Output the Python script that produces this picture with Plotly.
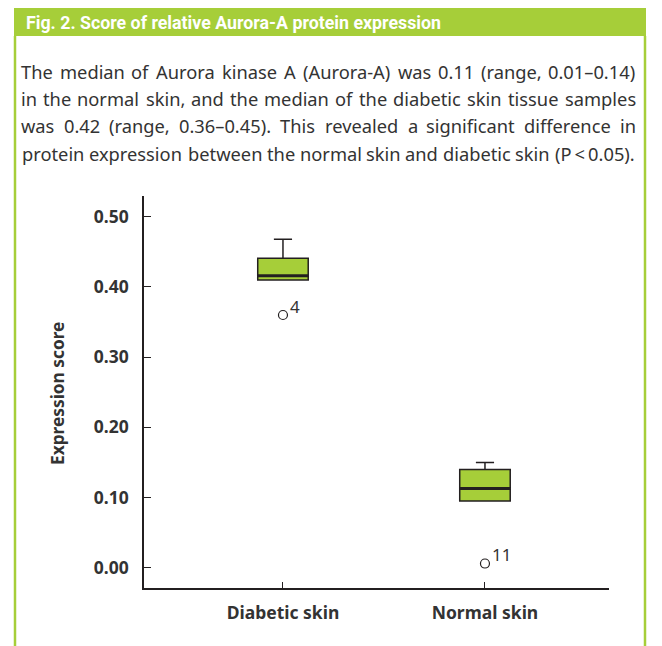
import plotly.graph_objects as go

# page has an 8px body margin; the figure is placed at (8, 8)
OFF = 8
W, H = 662 - OFF, 646 - OFF

# ---- data ----
categories = ["Diabetic skin", "Normal skin"]
q1 = [0.410, 0.095]
median = [0.416, 0.113]
q3 = [0.441, 0.140]
lowerfence = [0.410, 0.095]
upperfence = [0.468, 0.150]
outliers = [0.360, 0.006]
outlier_labels = ["4", "11"]
ytick_vals = [0.0, 0.1, 0.2, 0.3, 0.4, 0.5]

title_text = "Fig. 2. Score of relative Aurora-A protein expression"
body_lines = [
    "The median of Aurora kinase A (Aurora-A) was 0.11 (range, 0.01\u20130.14)",
    "in the normal skin, and the median of the diabetic skin tissue samples",
    "was 0.42 (range, 0.36\u20130.45). This revealed a significant difference in",
    "protein expression between the normal skin and diabetic skin (P\u2009<\u20090.05).",
]

GREEN = "#A6CE39"
DARK = "#231F20"
TXT = "#333333"
FONT = "Noto Sans"


def px_x(p):
    return (p - OFF) / W


def px_y(p):
    return 1 - (p - OFF) / H


# approximate advance widths (em) of Noto Sans Regular, used only to justify text
ADV = {
    " ": .26, "a": .556, "b": .613, "c": .476, "d": .613, "e": .561, "f": .339,
    "g": .548, "h": .614, "i": .253, "j": .253, "k": .525, "l": .253, "m": .930,
    "n": .614, "o": .604, "p": .613, "q": .613, "r": .408, "s": .477, "t": .353,
    "u": .614, "v": .501, "w": .778, "x": .524, "y": .502, "z": .477,
    "A": .633, "P": .596, "T": .549, ".": .266, ",": .244, "(": .295, ")": .295,
    "-": .322, "\u2013": .5, "<": .572, "\u2009": .2,
}
for d in "0123456789":
    ADV[d] = .572
WCORR = 1.012


def text_w(s, size):
    return sum(ADV.get(ch, .55) for ch in s) * size * WCORR


xpos = list(range(len(categories)))
box_w = 0.25

fig = go.Figure()
for i, c in enumerate(categories):
    fig.add_trace(go.Box(
        x=[xpos[i]], q1=[q1[i]], median=[median[i]], q3=[q3[i]],
        lowerfence=[lowerfence[i]], upperfence=[upperfence[i]],
        width=box_w, whiskerwidth=0.36, fillcolor=GREEN,
        line=dict(color=DARK, width=1.5), boxpoints=False,
        showlegend=False, hoverinfo="skip", name=c,
    ))
    fig.add_trace(go.Scatter(
        x=[xpos[i] - box_w / 2, xpos[i] + box_w / 2], y=[median[i], median[i]],
        mode="lines", line=dict(color=DARK, width=3), showlegend=False,
        hoverinfo="skip",
    ))

fig.add_trace(go.Scatter(
    x=xpos, y=outliers, mode="markers",
    marker=dict(symbol="circle-open", size=9, color=DARK, line=dict(width=1.2)),
    showlegend=False, hoverinfo="skip",
))

shapes = [
    dict(type="rect", xref="paper", yref="paper", x0=px_x(14), x1=px_x(646),
         y0=px_y(36), y1=px_y(7), fillcolor=GREEN, line=dict(width=0), layer="below"),
    dict(type="line", xref="paper", yref="paper", x0=px_x(15), x1=px_x(15),
         y0=px_y(36), y1=0, line=dict(color=GREEN, width=2.5)),
    dict(type="line", xref="paper", yref="paper", x0=px_x(645), x1=px_x(645),
         y0=px_y(36), y1=0, line=dict(color=GREEN, width=2.5)),
]

annotations = [
    dict(text="<b>" + title_text + "</b>", xref="paper", yref="paper",
         x=px_x(24), y=px_y(22), xanchor="left", yanchor="middle", showarrow=False,
         font=dict(family="Roboto", size=17.8, color="white")),
    dict(text="<b>Expression score</b>", xref="paper", yref="paper",
         x=px_x(57), y=px_y(394), xanchor="center", yanchor="middle", showarrow=False,
         textangle=-90, font=dict(family=FONT, size=17.3, color=TXT)),
]
for i, t in enumerate(outlier_labels):
    annotations.append(dict(text=t, xref="x", yref="y", x=xpos[i], y=outliers[i],
                            xanchor="left", yanchor="middle", xshift=5, yshift=9,
                            showarrow=False,
                            font=dict(family=FONT, size=17, color=TXT)))

# justified body text, one annotation per word
LEFT, RIGHT = 21, 636
line_y = [71, 98.5, 126, 153]
BODY_SIZE = 18.3
for t, yy in zip(body_lines, line_y):
    words = t.split(" ")
    widths = [text_w(w, BODY_SIZE) for w in words]
    gap = (RIGHT - LEFT - sum(widths)) / (len(words) - 1)
    f = dict(family=FONT, size=BODY_SIZE, color=TXT)
    xcur = LEFT
    for k, w in enumerate(words):
        annotations.append(dict(text=w, xref="paper", yref="paper",
                                x=px_x(xcur + widths[k] / 2), y=px_y(yy),
                                xanchor="center", borderpad=0,
                                yanchor="middle", showarrow=False, font=f))
        xcur += widths[k] + gap

fig.update_layout(
    width=W, height=H, margin=dict(l=0, r=0, t=0, b=0),
    paper_bgcolor="white", plot_bgcolor="white",
    shapes=shapes, annotations=annotations,
    xaxis=dict(domain=[px_x(144), px_x(609)], range=[-0.688, 1.614],
               tickvals=xpos, ticktext=["<b>%s</b>" % c for c in categories],
               ticks="inside", ticklen=7, tickcolor=DARK, tickwidth=1,
               showline=True, linecolor=DARK, linewidth=1.5, showgrid=False,
               zeroline=False, ticklabelstandoff=8,
               tickfont=dict(family=FONT, size=17.5, color=TXT)),
    yaxis=dict(domain=[px_y(588.3), px_y(196)], range=[-0.0293, 0.5295],
               tickvals=ytick_vals, tickformat=".2f",
               ticks="inside", ticklen=7, tickcolor=DARK, tickwidth=1,
               showline=True, linecolor=DARK, linewidth=1.5, showgrid=False,
               zeroline=False, ticklabelstandoff=10,
               tickfont=dict(family=FONT, size=17.5, color=TXT, weight="bold")),
)

fig.write_html("out.html")
